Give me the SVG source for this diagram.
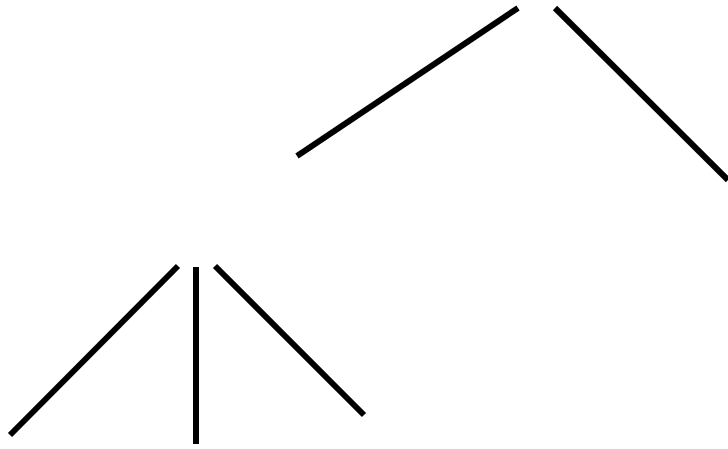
<svg xmlns="http://www.w3.org/2000/svg" width="728" height="449" viewBox="0 0 728 449">
<style>
.edge{stroke:#000;stroke-width:6;fill:none;stroke-linecap:butt}
</style>
<rect width="728" height="449" fill="#fff"/>
<g id="connectors">
<line class="edge" x1="297" y1="156" x2="518" y2="8"/>
<line class="edge" x1="555" y1="8" x2="728" y2="180"/>
<line class="edge" x1="178" y1="266" x2="10" y2="435"/>
<line class="edge" x1="196" y1="267" x2="196" y2="444"/>
<line class="edge" x1="215" y1="266" x2="364" y2="415"/>
</g>
</svg>
